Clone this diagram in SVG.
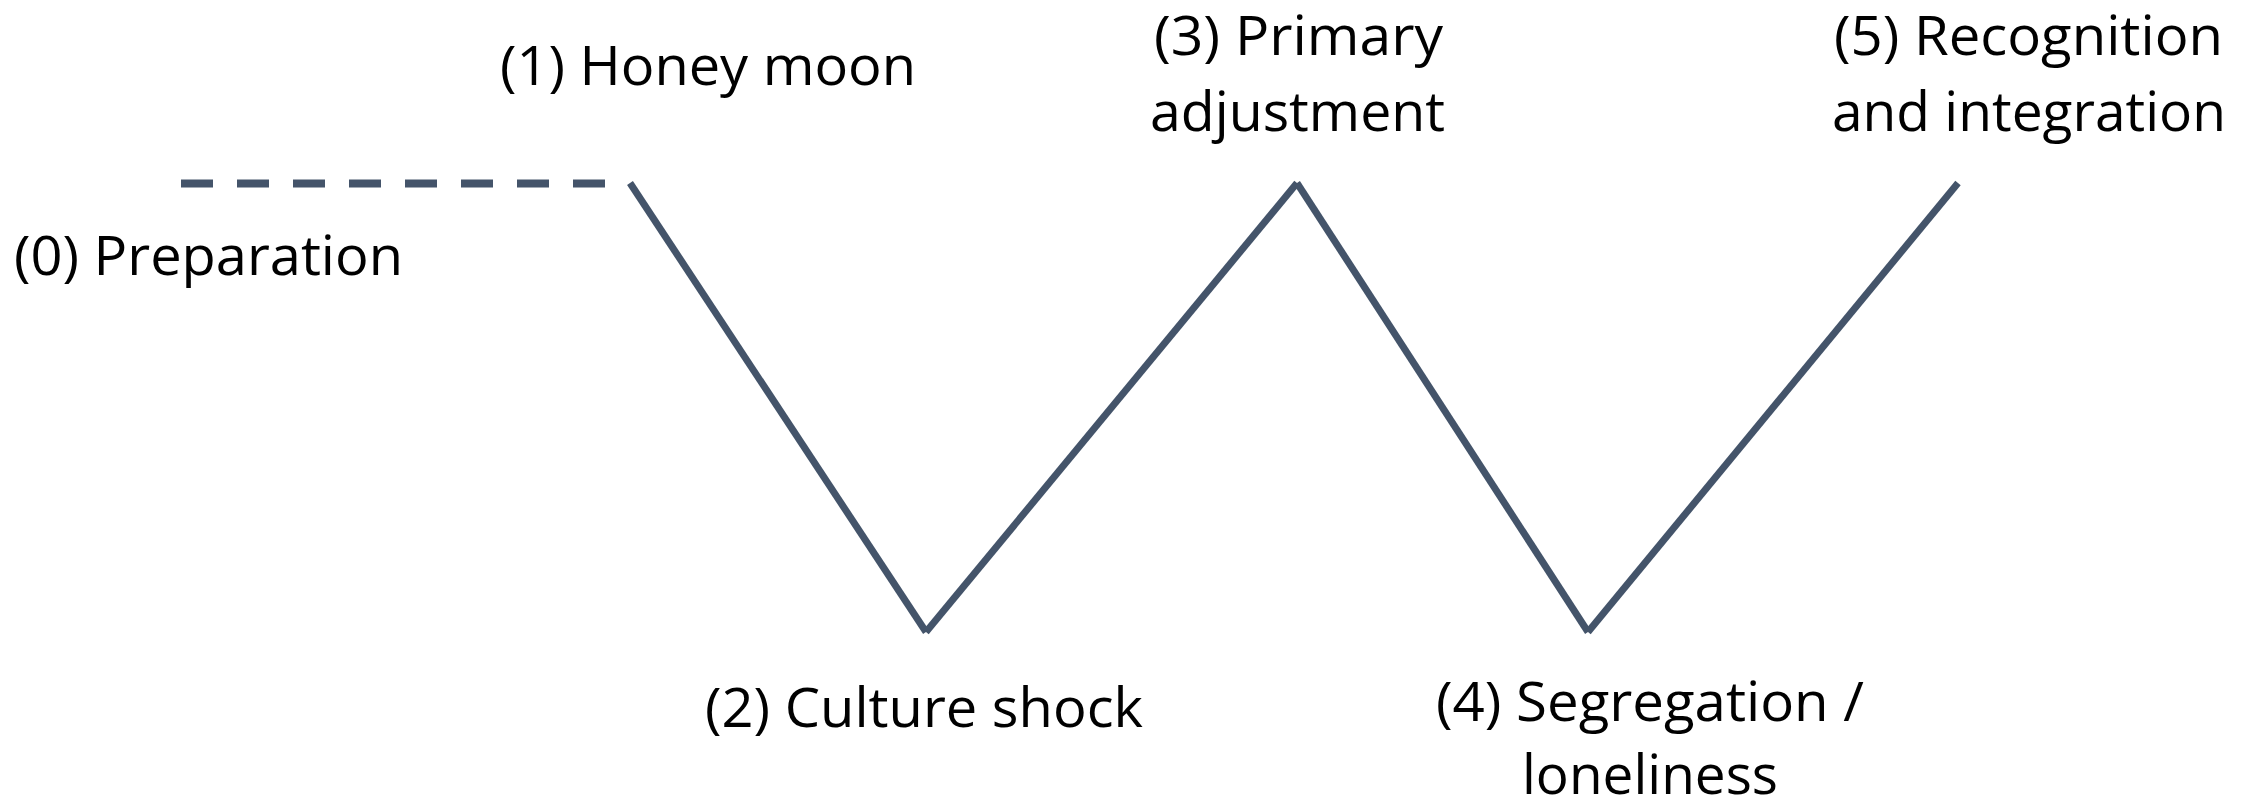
<svg xmlns="http://www.w3.org/2000/svg" width="2245" height="799" viewBox="0 0 2245 799">
<style>
.lbl{font-family:"Open Sans","Noto Sans","Liberation Sans",sans-serif;font-size:54px;fill:#000}
.ln{stroke:#44546A;stroke-width:7;fill:none;stroke-linecap:butt}
.dash{stroke-dasharray:32 24;stroke-width:8}
</style>
<rect width="2245" height="799" fill="#fff"/>
<g id="connectors">
<line class="ln dash" x1="181" y1="183.5" x2="606" y2="183.5"/>
<line class="ln" x1="630" y1="183" x2="926" y2="632"/>
<line class="ln" x1="926" y1="632" x2="1297" y2="183"/>
<line class="ln" x1="1297" y1="183" x2="1588" y2="632"/>
<line class="ln" x1="1588" y1="632" x2="1958" y2="183"/>
</g>
<g id="node0"><text class="lbl" x="14" y="275" textLength="389" lengthAdjust="spacingAndGlyphs">(0) Preparation</text></g>
<g id="node1"><text class="lbl" x="500" y="85" textLength="416" lengthAdjust="spacingAndGlyphs">(1) Honey moon</text></g>
<g id="node2"><text class="lbl" x="705" y="727" textLength="438" lengthAdjust="spacingAndGlyphs">(2) Culture shock</text></g>
<g id="node3"><text class="lbl" x="1154" y="55" textLength="289" lengthAdjust="spacingAndGlyphs">(3) Primary</text><text class="lbl" x="1150" y="131" textLength="295" lengthAdjust="spacingAndGlyphs">adjustment</text></g>
<g id="node4"><text class="lbl" x="1436" y="721" textLength="428" lengthAdjust="spacingAndGlyphs">(4) Segregation /</text><text class="lbl" x="1522" y="794" textLength="256" lengthAdjust="spacingAndGlyphs">loneliness</text></g>
<g id="node5"><text class="lbl" x="1834" y="55" textLength="389" lengthAdjust="spacingAndGlyphs">(5) Recognition</text><text class="lbl" x="1832" y="131" textLength="394" lengthAdjust="spacingAndGlyphs">and integration</text></g>
</svg>
